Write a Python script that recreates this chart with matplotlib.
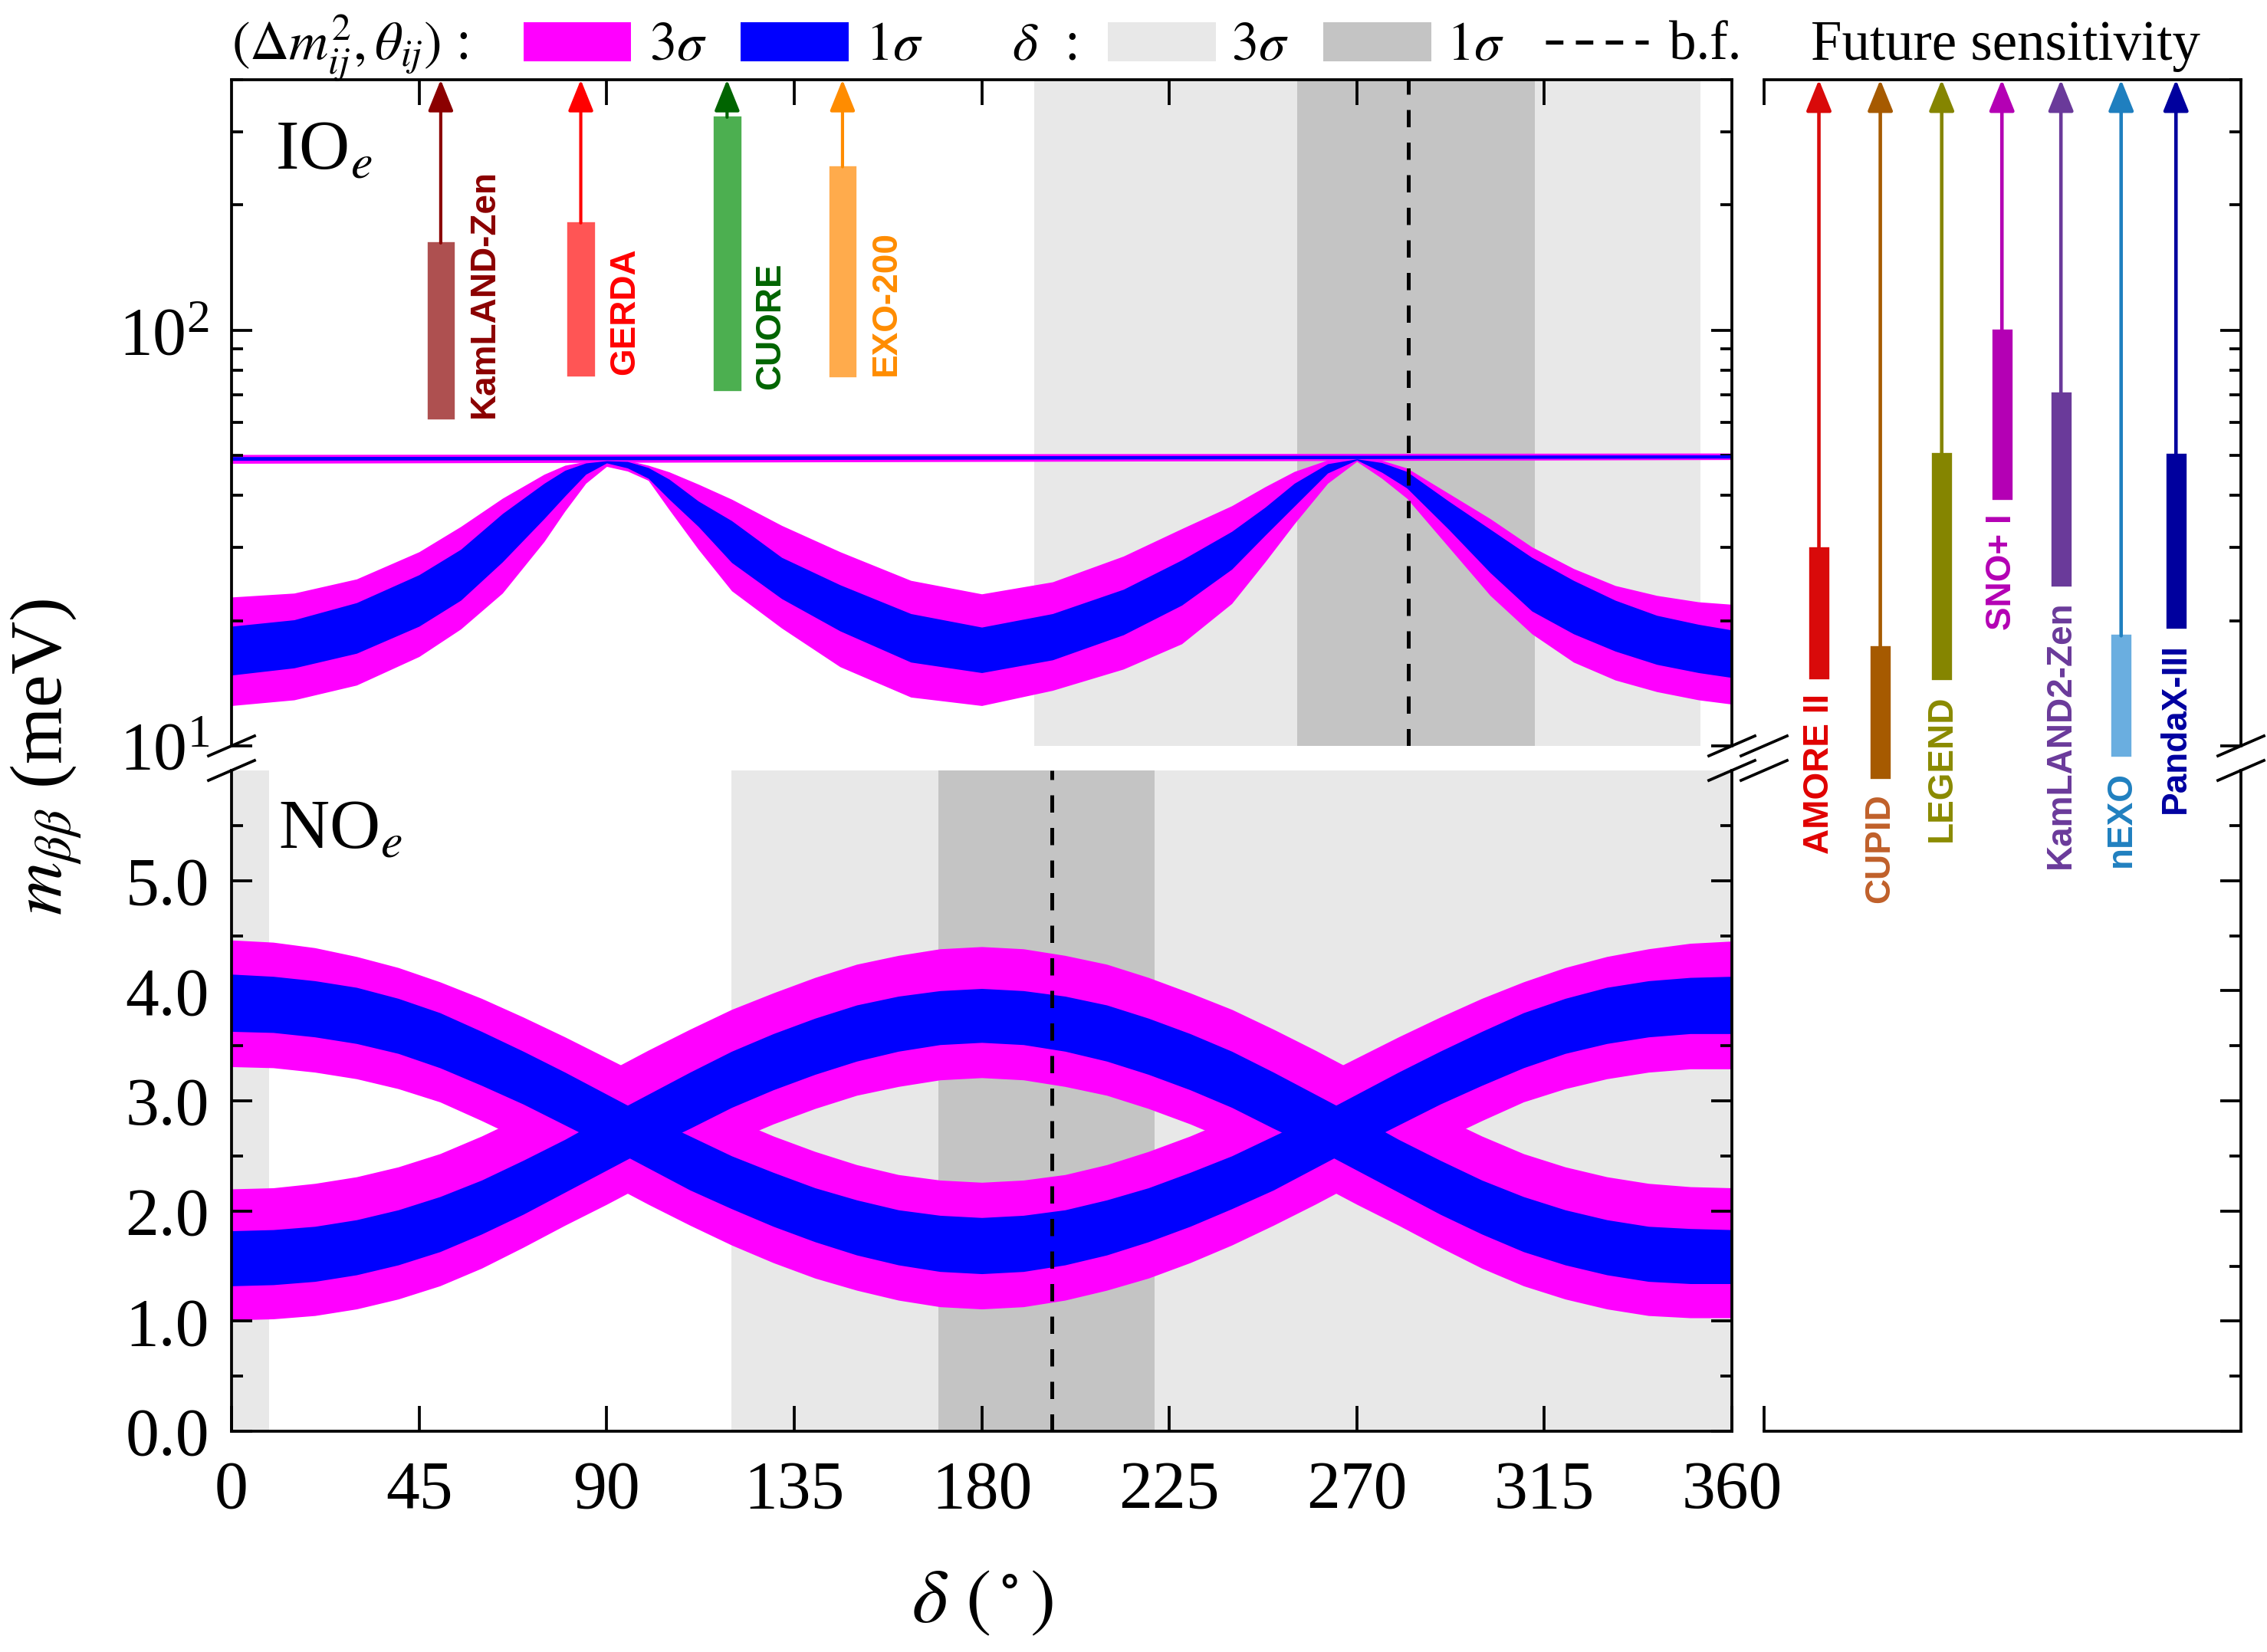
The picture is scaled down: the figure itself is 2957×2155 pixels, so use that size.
import matplotlib
matplotlib.use("Agg")
import matplotlib.pyplot as plt
from matplotlib.patches import Rectangle
from matplotlib.lines import Line2D
from matplotlib.ticker import (FixedLocator, NullFormatter, LogFormatterMathtext,
                               FormatStrFormatter)

plt.rcParams["font.family"] = ["Liberation Serif", "DejaVu Serif"]
plt.rcParams["mathtext.fontset"] = "stix"

# ---------------------------------------------------------
# DATA
# ---------------------------------------------------------
# inverted ordering, m_bb (meV) vs delta (deg)
delta_io = [0, 15, 30, 45, 55, 65, 75, 80, 85, 90, 95, 100, 105, 112, 120, 132, 146,
            163, 180, 197, 214, 228, 240, 248, 255, 263, 270, 276, 282, 292, 302, 312,
            322, 332, 342, 352, 360]
io_3s_hi = [22.8, 23.3, 25.2, 29.3, 33.7, 39.4, 45.0, 47.3, 48.3, 48.8, 48.6, 47.3, 45.6,
            42.6, 39.2, 33.9, 29.3, 25.0, 23.2, 24.8, 28.6, 33.3, 37.8, 42.0, 45.7, 48.7,
            49.3, 48.6, 46.6, 40.5, 35.2, 30.1, 26.7, 24.3, 23.0, 22.2, 21.9]
io_1s_hi = [19.4, 20.1, 22.1, 25.8, 29.7, 36.2, 42.8, 46.0, 47.9, 48.5, 48.3, 46.7, 43.8,
            38.8, 34.8, 28.4, 24.4, 20.8, 19.3, 20.8, 23.8, 28.0, 32.8, 37.5, 42.8, 47.7,
            49.0, 48.0, 45.7, 38.8, 33.2, 28.4, 25.0, 22.4, 20.6, 19.6, 19.0]
io_1s_lo = [14.8, 15.4, 16.7, 19.4, 22.4, 27.7, 35.2, 39.9, 45.0, 47.9, 46.6, 44.0, 39.2,
            33.7, 27.6, 22.6, 18.9, 15.9, 15.0, 16.1, 18.5, 21.8, 26.6, 32.1, 37.7, 45.3,
            48.7, 45.5, 41.7, 33.2, 26.1, 21.1, 18.6, 16.9, 15.7, 15.0, 14.6]
io_3s_lo = [12.5, 12.9, 14.0, 16.4, 19.1, 23.3, 31.0, 36.7, 42.8, 47.0, 45.8, 43.5, 37.0,
            29.7, 23.6, 19.2, 15.5, 13.1, 12.5, 13.6, 15.3, 17.6, 22.0, 27.7, 34.2, 42.8,
            48.3, 44.0, 39.4, 30.1, 23.0, 18.6, 15.9, 14.4, 13.5, 12.9, 12.6]
# nearly flat IO solution
delta_flat = [0, 360]
flat_3s_lo = [47.8, 48.8]
flat_3s_hi = [50.2, 50.6]
flat_1s_lo = [48.6, 49.2]
flat_1s_hi = [49.6, 50.1]

# normal ordering, two crossing bands (every 10 deg)
delta_no = list(range(0, 361, 10))
a_3s_hi = [4.46, 4.44, 4.39, 4.31, 4.21, 4.08, 3.93, 3.76, 3.58, 3.39, 3.20, 3.01, 2.84,
           2.68, 2.54, 2.42, 2.33, 2.28, 2.26, 2.28, 2.33, 2.42, 2.54, 2.68, 2.84, 3.01,
           3.20, 3.39, 3.58, 3.76, 3.93, 4.08, 4.21, 4.31, 4.38, 4.43, 4.45]
a_1s_hi = [4.15, 4.13, 4.09, 4.03, 3.93, 3.80, 3.63, 3.45, 3.26, 3.06, 2.86, 2.68, 2.50,
           2.35, 2.21, 2.10, 2.01, 1.96, 1.94, 1.96, 2.01, 2.10, 2.21, 2.35, 2.50, 2.68,
           2.86, 3.06, 3.26, 3.45, 3.63, 3.80, 3.93, 4.03, 4.09, 4.12, 4.13]
a_1s_lo = [3.63, 3.62, 3.58, 3.52, 3.43, 3.30, 3.14, 2.97, 2.78, 2.59, 2.39, 2.19, 2.02,
           1.86, 1.72, 1.60, 1.51, 1.45, 1.43, 1.45, 1.51, 1.60, 1.72, 1.86, 2.02, 2.19,
           2.39, 2.59, 2.78, 2.97, 3.14, 3.30, 3.43, 3.52, 3.58, 3.61, 3.61]
a_3s_lo = [3.31, 3.30, 3.26, 3.20, 3.11, 2.99, 2.82, 2.64, 2.45, 2.26, 2.06, 1.87, 1.69,
           1.53, 1.39, 1.28, 1.19, 1.13, 1.11, 1.13, 1.19, 1.28, 1.39, 1.53, 1.69, 1.87,
           2.06, 2.26, 2.45, 2.64, 2.82, 2.99, 3.11, 3.20, 3.26, 3.29, 3.29]
b_3s_hi = [2.20, 2.21, 2.25, 2.31, 2.40, 2.52, 2.68, 2.86, 3.06, 3.26, 3.46, 3.65, 3.83,
           3.98, 4.12, 4.24, 4.32, 4.38, 4.40, 4.38, 4.32, 4.24, 4.12, 3.98, 3.83, 3.65,
           3.46, 3.26, 3.06, 2.86, 2.68, 2.52, 2.40, 2.31, 2.25, 2.22, 2.21]
b_1s_hi = [1.82, 1.83, 1.86, 1.92, 2.01, 2.13, 2.28, 2.46, 2.65, 2.86, 3.06, 3.26, 3.45,
           3.61, 3.75, 3.87, 3.95, 4.00, 4.02, 4.00, 3.95, 3.87, 3.75, 3.61, 3.45, 3.26,
           3.06, 2.86, 2.65, 2.46, 2.28, 2.13, 2.01, 1.92, 1.86, 1.84, 1.83]
b_1s_lo = [1.32, 1.33, 1.36, 1.42, 1.51, 1.63, 1.79, 1.97, 2.17, 2.37, 2.57, 2.75, 2.94,
           3.10, 3.24, 3.36, 3.45, 3.51, 3.53, 3.51, 3.45, 3.36, 3.24, 3.10, 2.94, 2.75,
           2.57, 2.37, 2.17, 1.97, 1.79, 1.63, 1.51, 1.42, 1.36, 1.34, 1.34]
b_3s_lo = [1.01, 1.02, 1.05, 1.11, 1.20, 1.32, 1.48, 1.67, 1.87, 2.06, 2.26, 2.45, 2.63,
           2.79, 2.93, 3.05, 3.13, 3.19, 3.21, 3.19, 3.13, 3.05, 2.93, 2.79, 2.63, 2.45,
           2.26, 2.06, 1.87, 1.67, 1.48, 1.32, 1.20, 1.11, 1.05, 1.03, 1.03]

# delta ranges
io_delta_3s = (192.6, 352.5)
io_delta_1s = (255.7, 312.7)
io_delta_bf = 282.3
no_delta_3s = [(0, 9.1), (119.9, 360)]
no_delta_1s = (169.6, 221.4)
no_delta_bf = 196.8

# current limits (meV)
cur_names = ["KamLAND-Zen", "GERDA", "CUORE", "EXO-200"]
cur_delta = [50.2, 83.8, 118.9, 146.6]
cur_lo = [61.4, 78.2, 72.1, 77.6]
cur_hi = [162, 181, 325, 247]
cur_colors = ["#8b0000", "#ff0000", "#006400", "#ff8c00"]
cur_fill = ["#ae5050", "#ff5555", "#4caf50", "#ffab4c"]

# future sensitivities (meV)
fut_names = ["AMORE II", "CUPID", "LEGEND", "SNO+ I", "KamLAND2-Zen", "nEXO", "PandaX-III"]
fut_x = [0.92, 1.95, 2.98, 3.99, 4.98, 5.99, 6.91]
fut_lo = [14.6, 8.4, 14.5, 39.4, 24.4, 9.5, 19.3]
fut_hi = [29.9, 17.3, 50.5, 100, 70.6, 18.4, 50.2]
fut_colors = ["#d90a0a", "#a65a00", "#858500", "#b400b4", "#6a3a9a", "#1f7fbf", "#00009e"]
fut_fill = ["#d90a0a", "#a65a00", "#858500", "#b400b4", "#6a3a9a", "#6aaee0", "#00009e"]
fut_text = ["#e00000", "#c0602a", "#8a8a00", "#b400b4", "#6a3a9a", "#2080c0", "#0000a0"]

MAG = "#ff00ff"
BLU = "#0000ff"
GREY_LIGHT = "#e8e8e8"
GREY_DARK = "#c4c4c4"

# ---------------------------------------------------------
# LAYOUT
# ---------------------------------------------------------
W, H = 2957, 2155
fig = plt.figure(figsize=(W / 300, H / 300), dpi=300)


def px_axes(x0, y0, x1, y1):
    return fig.add_axes([x0 / W, 1 - y1 / H, (x1 - x0) / W, (y1 - y0) / H])


ax_io = px_axes(302, 104, 2259, 973)
ax_no = px_axes(302, 1005, 2259, 1867)
ax_fn = px_axes(2301, 1005, 2923, 1867)
ax_fi = px_axes(2301, 104, 2923, 973)
ax_fi.set_zorder(ax_fn.get_zorder() + 1)   # labels hang down over the lower panel

LW = 0.9
for ax in (ax_io, ax_no, ax_fi, ax_fn):
    for s in ax.spines.values():
        s.set_linewidth(LW)
    ax.tick_params(which="both", direction="in", width=LW, labelsize=21)
    ax.tick_params(which="major", length=6.5)
    ax.tick_params(which="minor", length=3.5)
    ax.tick_params(axis="x", which="major", length=8, pad=9)
    ax.tick_params(axis="y", pad=7)

# ---------------------------------------------------------
# TOP PANEL (IO)
# ---------------------------------------------------------
ax = ax_io
ax.set_yscale("log")
ax.set_xlim(0, 360)
ax.set_ylim(10, 400)
ax.axvspan(*io_delta_3s, color=GREY_LIGHT, lw=0, zorder=0)
ax.axvspan(*io_delta_1s, color=GREY_DARK, lw=0, zorder=0.5)
ax.fill_between(delta_flat, flat_3s_lo, flat_3s_hi, color=MAG, lw=0, zorder=1)
ax.fill_between(delta_io, io_3s_lo, io_3s_hi, color=MAG, lw=0, zorder=1)
ax.fill_between(delta_flat, flat_1s_lo, flat_1s_hi, color=BLU, lw=0, zorder=2)
ax.fill_between(delta_io, io_1s_lo, io_1s_hi, color=BLU, lw=0, zorder=2)
ax.axvline(io_delta_bf, color="k", lw=1.2, ls=(0, (4.5, 4)), zorder=3)

for name, x, lo, hi, c, fc in zip(cur_names, cur_delta, cur_lo, cur_hi, cur_colors, cur_fill):
    ax.add_patch(Rectangle((x - 3, lo), 6, hi - lo, facecolor=fc, edgecolor=fc, lw=0.8, zorder=4))
    ax.annotate("", xy=(x, 400), xytext=(x, hi), annotation_clip=False,
                arrowprops=dict(arrowstyle="-|>,head_length=0.42,head_width=0.17",
                                mutation_scale=20, color=c, lw=1.0, shrinkA=0, shrinkB=0),
                zorder=4)
    ax.text(x + 10.5, lo, name, rotation=90, ha="center", va="bottom", color=c,
            fontsize=11, fontweight="bold", family="Liberation Sans", zorder=5)

ax.text(0.029, 0.892, r"IO$_e$", transform=ax.transAxes, fontsize=22,
        ha="left", va="center")
ax.spines["bottom"].set_visible(False)
ax.xaxis.set_ticks_position("top")
ax.set_xticks([45, 90, 135, 180, 225, 270, 315])
ax.tick_params(axis="x", labeltop=False, labelbottom=False, bottom=False, top=True)
ax.tick_params(axis="y", left=True, right=True, which="both")
ax.yaxis.set_major_formatter(LogFormatterMathtext())
ax.yaxis.set_minor_formatter(NullFormatter())

# ---------------------------------------------------------
# BOTTOM PANEL (NO)
# ---------------------------------------------------------
ax = ax_no
ax.set_xlim(0, 360)
ax.set_ylim(0, 6)
for a, b in no_delta_3s:
    ax.axvspan(a, b, color=GREY_LIGHT, lw=0, zorder=0)
ax.axvspan(*no_delta_1s, color=GREY_DARK, lw=0, zorder=0.5)
ax.fill_between(delta_no, a_3s_lo, a_3s_hi, color=MAG, lw=0, zorder=1)
ax.fill_between(delta_no, b_3s_lo, b_3s_hi, color=MAG, lw=0, zorder=1)
ax.fill_between(delta_no, a_1s_lo, a_1s_hi, color=BLU, lw=0, zorder=2)
ax.fill_between(delta_no, b_1s_lo, b_1s_hi, color=BLU, lw=0, zorder=2)
ax.axvline(no_delta_bf, color="k", lw=1.2, ls=(0, (4.5, 4)), zorder=3)
ax.text(0.031, 0.908, r"NO$_e$", transform=ax.transAxes, fontsize=22,
        ha="left", va="center")
ax.spines["top"].set_visible(False)
ax.set_xticks(range(0, 361, 45))
ax.set_yticks([0, 1, 2, 3, 4, 5])
ax.yaxis.set_minor_locator(FixedLocator([0.5, 1.5, 2.5, 3.5, 4.5, 5.5]))
ax.yaxis.set_major_formatter(FormatStrFormatter("%.1f"))
ax.tick_params(axis="x", top=False, bottom=True)
ax.tick_params(axis="y", left=True, right=True, which="both")

# ---------------------------------------------------------
# RIGHT PANEL (future sensitivity)
# ---------------------------------------------------------
ax = ax_fi
ax.set_yscale("log")
ax.set_xlim(0, 8)
ax.set_ylim(10, 400)
ax.spines["left"].set_visible(False)
ax.spines["bottom"].set_visible(False)
ax.xaxis.set_ticks_position("top")
ax.set_xticks([0])
ax.tick_params(axis="x", labeltop=False, labelbottom=False, top=True, bottom=False)
ax.tick_params(axis="y", which="both", left=False, right=True, labelleft=False)
ax.yaxis.set_minor_formatter(NullFormatter())
for name, x, lo, hi, c, fc, tc in zip(fut_names, fut_x, fut_lo, fut_hi, fut_colors,
                                      fut_fill, fut_text):
    ax.add_patch(Rectangle((x - 0.15, lo), 0.3, hi - lo, facecolor=fc, edgecolor=fc,
                           lw=0.8, zorder=4, clip_on=False))
    ax.annotate("", xy=(x, 400), xytext=(x, hi), annotation_clip=False,
                arrowprops=dict(arrowstyle="-|>,head_length=0.42,head_width=0.17",
                                mutation_scale=20, color=c, lw=1.1, shrinkA=0, shrinkB=0),
                zorder=4)
    ax.annotate(name, xy=(x, lo), xytext=(0, -5), textcoords="offset points",
                rotation=90, ha="center", va="top", color=tc, fontsize=11,
                fontweight="bold", family="Liberation Sans", annotation_clip=False,
                zorder=5)

ax = ax_fn
ax.set_xlim(0, 8)
ax.set_ylim(0, 6)
ax.spines["left"].set_visible(False)
ax.spines["top"].set_visible(False)
ax.set_xticks([0])
ax.tick_params(axis="x", labelbottom=False, bottom=True, top=False)
ax.set_yticks([0, 1, 2, 3, 4, 5])
ax.yaxis.set_minor_locator(FixedLocator([0.5, 1.5, 2.5, 3.5, 4.5, 5.5]))
ax.tick_params(axis="y", which="both", left=False, right=True, labelleft=False)

# axis-break marks
for xp in (302, 2259, 2301, 2923):
    for yp in (973, 1005):
        fig.add_artist(Line2D([(xp - 30) / W, (xp + 30) / W],
                              [1 - (yp + 13) / H, 1 - (yp - 13) / H],
                              color="k", lw=LW))

# axis labels
fig.text(60 / W, 1 - 987 / H, r"$m_{\beta\beta}$ (meV)", rotation=90,
         fontsize=23, ha="center", va="center")
fig.text(1281 / W, 0.029, r"$\delta\ (^\circ)$", fontsize=24, ha="center", va="center")

# ---------------------------------------------------------
# LEGEND STRIP
# ---------------------------------------------------------
leg = fig.add_axes([0, 1 - 100 / H, 1, 100 / H])
leg.set_xlim(0, W)
leg.set_ylim(100, 0)
leg.axis("off")
base = 78
leg.text(302, base, r"$(\Delta m^2_{ij},\theta_{ij})$ :", fontsize=17, va="baseline")
leg.add_patch(Rectangle((683, 29), 140, 51, color=MAG, lw=0))
leg.text(847, base, r"$3\sigma$", fontsize=17, va="baseline")
leg.add_patch(Rectangle((966, 29), 141, 51, color=BLU, lw=0))
leg.text(1129, base, r"$1\sigma$", fontsize=17, va="baseline")
leg.text(1320, base, r"$\delta$  :", fontsize=17, va="baseline")
leg.add_patch(Rectangle((1445, 29), 141, 51, color=GREY_LIGHT, lw=0))
leg.text(1606, base, r"$3\sigma$", fontsize=17, va="baseline")
leg.add_patch(Rectangle((1726, 29), 141, 51, color=GREY_DARK, lw=0))
leg.text(1887, base, r"$1\sigma$", fontsize=17, va="baseline")
leg.plot([2016, 2150], [55, 55], color="k", lw=1.3, ls=(0, (4.2, 3)))
leg.text(2177, base, "b.f.", fontsize=17, va="baseline")
leg.text(2616, base, "Future sensitivity", fontsize=17.5, va="baseline", ha="center")

fig.savefig("out.png", dpi=300)
